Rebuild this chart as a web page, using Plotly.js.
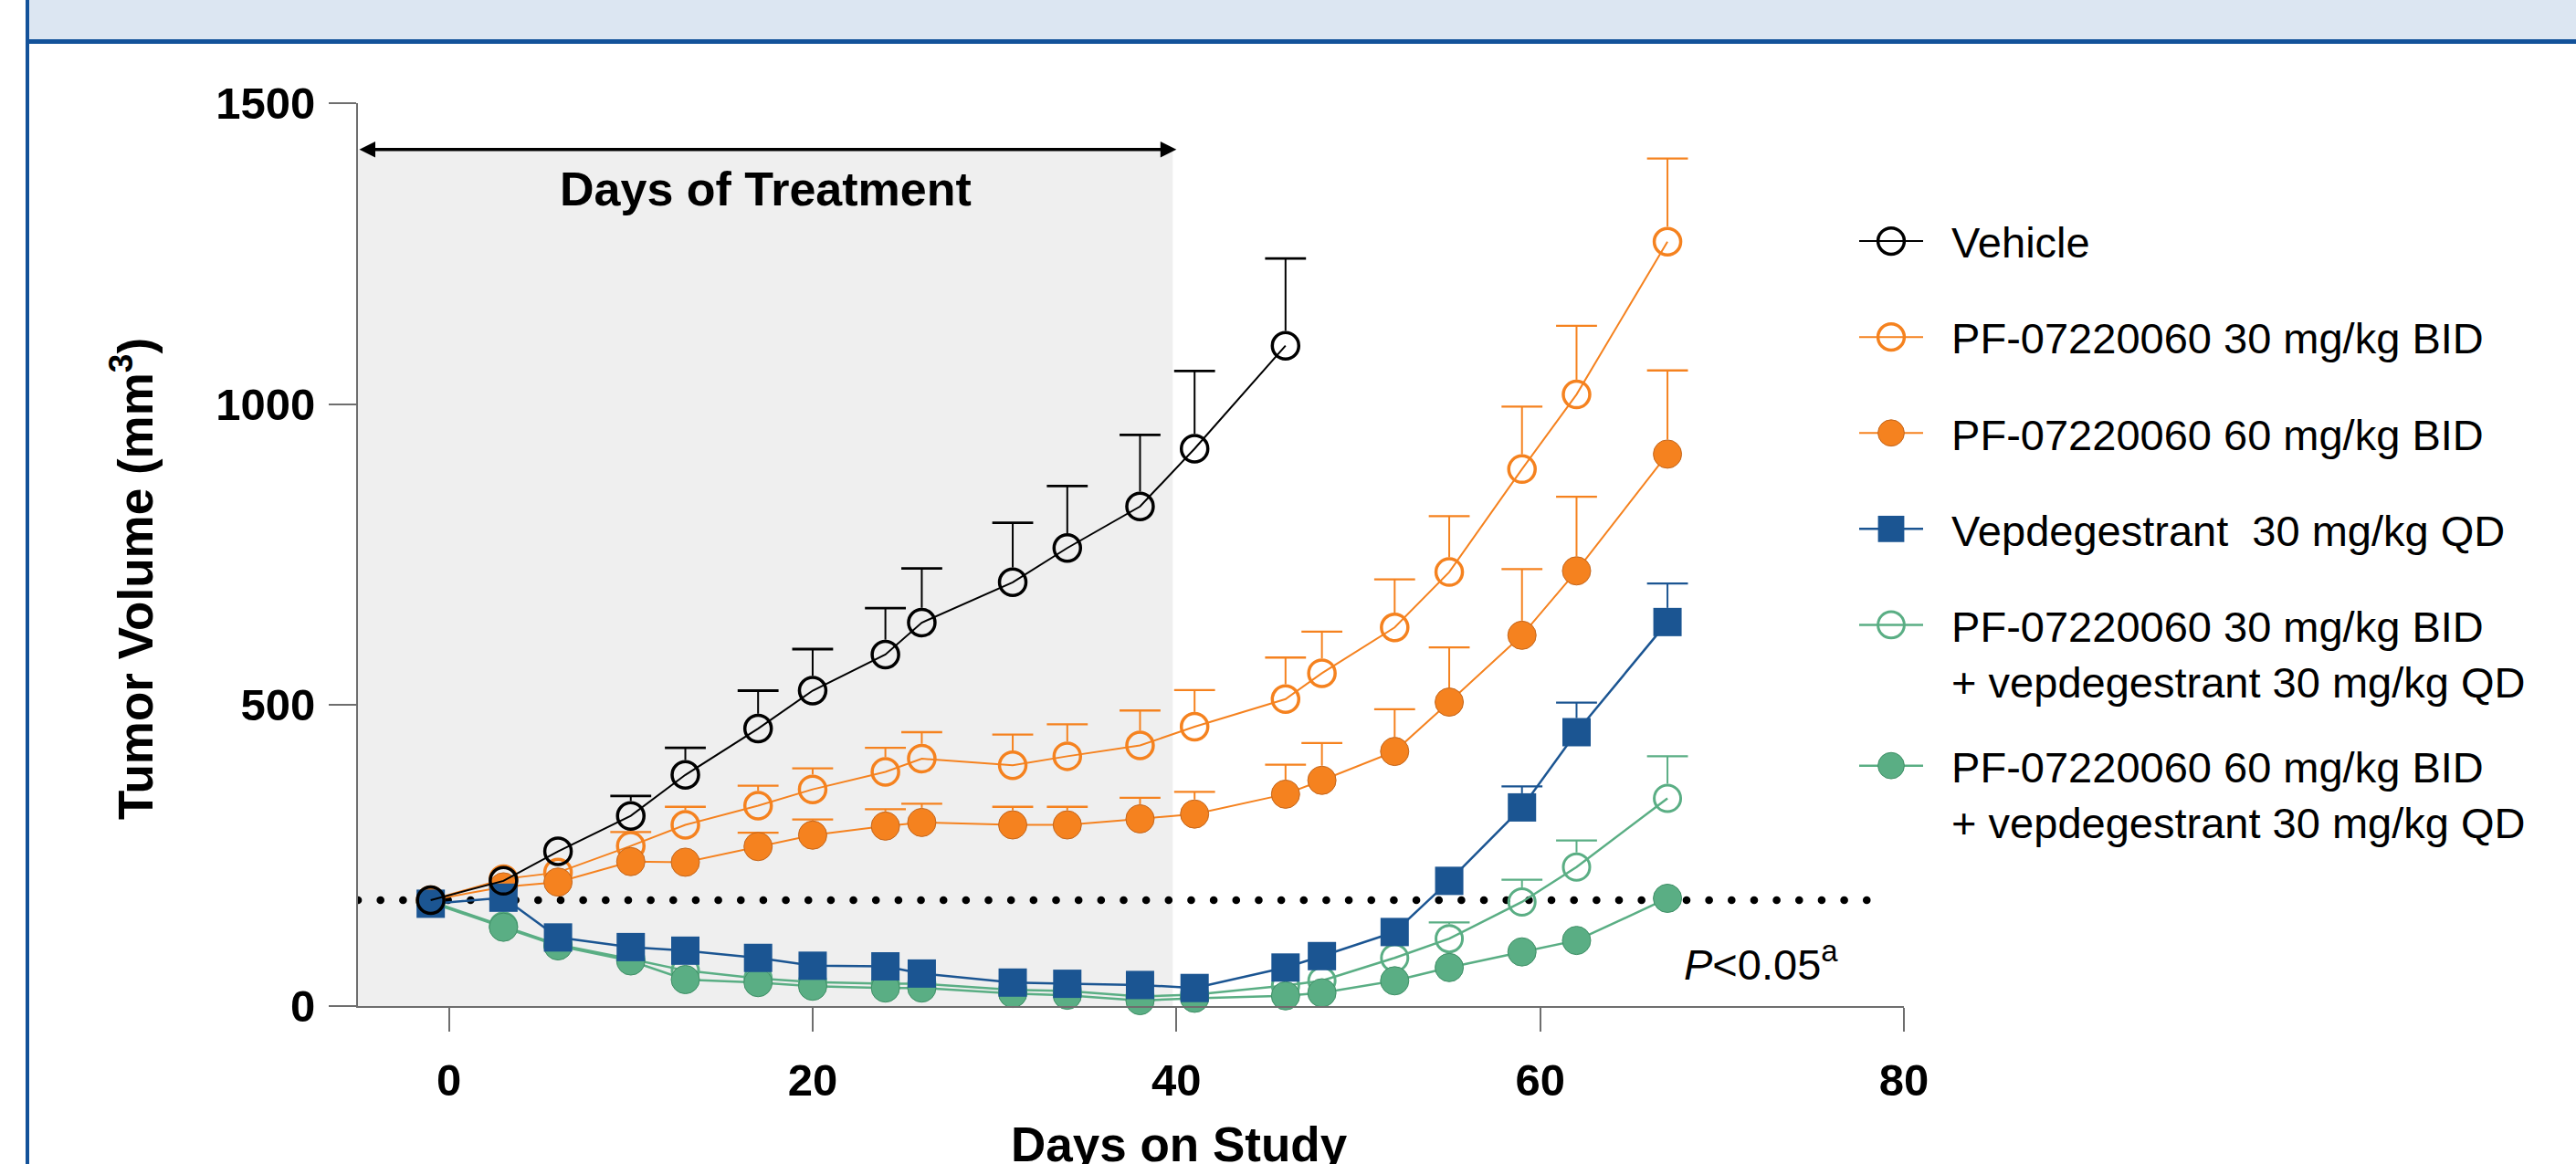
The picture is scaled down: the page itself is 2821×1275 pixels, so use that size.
<!DOCTYPE html>
<html><head><meta charset="utf-8">
<script src="https://cdn.plot.ly/plotly-3.0.1.min.js"></script>
<style>html,body{margin:0;padding:0;background:#fff}#chart{width:2821px;height:1275px}</style>
</head><body><div id="chart"></div>
<script>
// ---------- data ----------
const days = [-1, 3, 6, 10, 13, 17, 20, 24, 26, 31, 34, 38, 41, 46, 48, 52, 55, 59, 62, 67];

const vehicle    = [176, 208, 257, 316, 384, 461, 524, 584, 637, 704, 761, 830, 926, 1097, null, null, null, null, null, null];
const vehicleErr = [null, null, null, 33, 45, 63, 69, 77, 90, 99, 103, 119, 129, 145, null, null, null, null, null, null];

const pf30    = [176, 211, 222, 266, 301, 333, 360, 389, 411, 400, 415, 433, 464, 510, 553, 629, 721, 892, 1016, 1270];
const pf30Err = [null, null, null, 23, 30, 33, 35, 40, 44, 51, 53, 58, 61, 69, 69, 80, 93, 104, 114, 138];

const pf60    = [176, 198, 206, 240, 239, 265, 284, 299, 305, 301, 301, 311, 319, 352, 375, 423, 505, 616, 723, 917];
const pf60Err = [null, null, null, null, null, 23, 26, 28, 31, 30, 30, 35, 37, 49, 62, 70, 91, 110, 123, 139];

const vep    = [170, 180, 114, 98, 92, 80, 67, 66, 54, 39, 37, 35, 30, 64, 83, 123, 208, 330, 455, 638];
const vepErr = [null, null, null, null, null, null, null, null, null, null, null, null, null, null, null, null, null, 35, 49, 64];

const combo30    = [174, 133, 102, 78, 59, 46, 40, 37, 37, 27, 25, 16, 19, 34, 42, 80, 112, 173, 231, 345];
const combo30Err = [null, null, null, null, null, null, null, null, null, null, null, null, null, null, null, null, 27, 37, 44, 70];

const combo60    = [172, 131, 100, 75, 44, 39, 33, 30, 30, 21, 18, 9, 13, 17, 22, 42, 64, 90, 109, 179];

const seriesNames = [
  'Vehicle',
  'PF-07220060 30 mg/kg BID',
  'PF-07220060 60 mg/kg BID',
  'Vepdegestrant  30 mg/kg QD',
  'PF-07220060 30 mg/kg BID<br>+ vepdegestrant 30 mg/kg QD',
  'PF-07220060 60 mg/kg BID<br>+ vepdegestrant 30 mg/kg QD'
];

const xTitle = 'Days on Study';
const yTitle = 'Tumor Volume (mm<sup>3</sup>)';
const treatmentLabel = 'Days of Treatment';
const pLabel = '<i>P</i>&lt;0.05<sup>a</sup>';

const baselineVolume = 176;      // dotted reference line
const treatmentStart = -5, treatmentEnd = 40;
const xTicks = [0, 20, 40, 60, 80];
const yTicks = [0, 500, 1000, 1500];

// ---------- layout geometry ----------
const W = 2821, H = 1275;
const M = {l: 392, r: 736, t: 113, b: 173};
const plotW = W - M.l - M.r, plotH = H - M.t - M.b;
const xRange = [-5, 80], yRange = [0, 1500];
const pxPerY = plotH / (yRange[1] - yRange[0]);
const px2paperX = px => (px - M.l) / plotW;
const px2paperY = py => (H - M.b - py) / plotH;

const FONT = 'Liberation Sans, Arial, sans-serif';
const ORANGE = '#f5821f', BLUE = '#1b5592', GREEN = '#5aae84', BLACK = '#000000';
const NB = '\u00A0\u00A0';   // gap between legend symbol and text

const styles = [
  {y: vehicle, err: vehicleErr, color: BLACK, symbol: 'circle-open', size: 29, lw: 3.5, lcol: BLACK, width: 2, rank: 1},
  {y: pf30, err: pf30Err, color: ORANGE, symbol: 'circle-open', size: 29, lw: 3.5, lcol: ORANGE, width: 2, rank: 2},
  {y: pf60, err: pf60Err, color: ORANGE, symbol: 'circle', size: 31, lw: 1, lcol: '#c4661c', width: 2, rank: 3},
  {y: vep, err: vepErr, color: BLUE, symbol: 'square', size: 31, lw: 0, lcol: BLUE, width: 2.5, rank: 4},
  {y: combo30, err: combo30Err, color: GREEN, symbol: 'circle-open', size: 29, lw: 3, lcol: GREEN, width: 2.5, rank: 5},
  {y: combo60, err: null, color: GREEN, symbol: 'circle', size: 31, lw: 1, lcol: '#3f8f66', width: 2.5, rank: 6}
];

const traces = [];
// dotted baseline
traces.push({
  x: [xRange[0], 79], y: [baselineVolume, baselineVolume], mode: 'lines', type: 'scatter',
  line: {color: BLACK, width: 8.5, dash: '0.1px,24.56px'}, showlegend: false, hoverinfo: 'skip', cliponaxis: false
});
// error bars (upper only) as separate helper traces
styles.forEach(s => {
  if (!s.err) return;
  const rUnits = (s.size / 2 + s.lw / 2) / pxPerY;
  const capY = s.y.map((v, i) => (v == null || s.err[i] == null) ? null : v + s.err[i]);
  const down = s.err.map(e => e == null ? 0 : Math.max(e - rUnits, 0));
  traces.push({
    x: days, y: capY, type: 'scatter', mode: 'markers', showlegend: false, hoverinfo: 'skip', cliponaxis: false,
    marker: {symbol: 'line-ew-open', size: 32, color: s.color, line: {color: s.color, width: s.color === BLACK ? 2.8 : 2.3}},
    error_y: {type: 'data', symmetric: false, array: days.map(() => 0), arrayminus: down, width: 0, thickness: 2, color: s.color}
  });
});
// main series, drawn bottom-to-top: combos, PF, vep, vehicle
[4, 5, 1, 2, 3, 0].forEach(k => {
  const s = styles[k];
  traces.push({
    x: days, y: s.y, type: 'scatter', mode: 'lines+markers',
    name: NB + seriesNames[k].split('<br>').join('<br>' + NB),
    legendgroup: 'g' + k, legendrank: s.rank, cliponaxis: false,
    line: {color: s.color, width: s.width},
    marker: {symbol: s.symbol, size: s.size, color: s.color, line: {color: s.lcol, width: s.lw}}
  });
});

const axisCommon = {
  showgrid: false, zeroline: false, showline: true, linecolor: '#6e6e6e', linewidth: 2,
  ticks: 'outside', tickcolor: '#6e6e6e', tickwidth: 2,
  tickfont: {family: FONT, size: 49, color: BLACK, weight: 'bold'}
};

const titleFont = {family: FONT, size: 53, color: BLACK, weight: 'bold'};

const layout = {
  width: W, height: H, margin: M,
  paper_bgcolor: '#ffffff', plot_bgcolor: 'rgba(0,0,0,0)',
  font: {family: FONT, color: BLACK},
  xaxis: Object.assign({}, axisCommon, {range: xRange, tickvals: xTicks, ticklen: 26, ticklabelstandoff: 11}),
  yaxis: Object.assign({}, axisCommon, {range: yRange, tickvals: yTicks, ticklen: 30, ticklabelstandoff: 5}),
  showlegend: true,
  legend: {
    x: px2paperX(2031), y: px2paperY(227), xanchor: 'left', yanchor: 'top',
    font: {family: FONT, size: 47, color: BLACK}, bgcolor: 'rgba(0,0,0,0)',
    itemwidth: 70, tracegroupgap: 41, valign: 'top', traceorder: 'grouped'
  },
  shapes: [
    {type: 'rect', xref: 'x', yref: 'y', x0: treatmentStart, x1: treatmentEnd - 0.2, y0: 0, y1: 1423,
     fillcolor: '#efefef', line: {width: 0}, layer: 'below'},
    {type: 'rect', xref: 'paper', yref: 'paper', x0: px2paperX(30), x1: px2paperX(W), y0: px2paperY(43), y1: px2paperY(0),
     fillcolor: '#dce6f2', line: {width: 0}, layer: 'below'},
    {type: 'rect', xref: 'paper', yref: 'paper', x0: px2paperX(30), x1: px2paperX(W), y0: px2paperY(48), y1: px2paperY(43),
     fillcolor: '#13529a', line: {width: 0}, layer: 'below'},
    {type: 'rect', xref: 'paper', yref: 'paper', x0: px2paperX(28), x1: px2paperX(32), y0: px2paperY(H), y1: px2paperY(0),
     fillcolor: '#13529a', line: {width: 0}, layer: 'below'}
  ],
  annotations: [
    {x: px2paperX(1291), y: px2paperY(1222), xref: 'paper', yref: 'paper', xanchor: 'center', yanchor: 'top',
     showarrow: false, text: xTitle, font: titleFont},
    {x: px2paperX(144), y: px2paperY(634), xref: 'paper', yref: 'paper', xanchor: 'center', yanchor: 'middle',
     textangle: -90, showarrow: false, text: yTitle, font: titleFont},
    {x: 17.4, y: 1358, xref: 'x', yref: 'y', xanchor: 'center', yanchor: 'middle', showarrow: false,
     text: treatmentLabel, font: {family: FONT, size: 52, color: BLACK, weight: 'bold'}},
    {x: treatmentEnd, y: 1423, ax: treatmentStart, ay: 1423, xref: 'x', yref: 'y', axref: 'x', ayref: 'y',
     showarrow: true, arrowhead: 2, startarrowhead: 2, arrowside: 'end+start', arrowsize: 1, startarrowsize: 1,
     arrowwidth: 3.5, arrowcolor: BLACK, font: {size: 1}},
    {x: 67.8, y: 74, xref: 'x', yref: 'y', xanchor: 'left', yanchor: 'middle', showarrow: false,
     text: pLabel, font: {family: FONT, size: 47, color: BLACK}}
  ]
};

Plotly.newPlot('chart', traces, layout, {staticPlot: true, displayModeBar: false}).then(gd => {
  // round dots for the baseline
  const first = gd.querySelector('.scatterlayer .trace .js-line');
  if (first) first.style.strokeLinecap = 'round';
  // enlarge legend symbols to match the reference size
  gd.querySelectorAll('.legend .legendpoints path.scatterpts').forEach(p => {
    const t = p.getAttribute('transform') || '';
    p.setAttribute('transform', t + ' scale(1.8)');
    p.style.vectorEffect = 'non-scaling-stroke';
  });
  // the reference uses a slightly tighter gap before the last two-line entry
  try {
    const groups = gd.querySelectorAll('.legend .groups');
    if (groups.length > 1) {
      const g = groups[groups.length - 1];
      const m = (g.getAttribute('transform') || '').match(/translate\(\s*([-\d.e]+)[ ,]+([-\d.e]+)\s*\)/);
      if (m) g.setAttribute('transform', 'translate(' + m[1] + ',' + (parseFloat(m[2]) - 12) + ')');
    }
  } catch (e) {}
});
</script>
</body></html>
